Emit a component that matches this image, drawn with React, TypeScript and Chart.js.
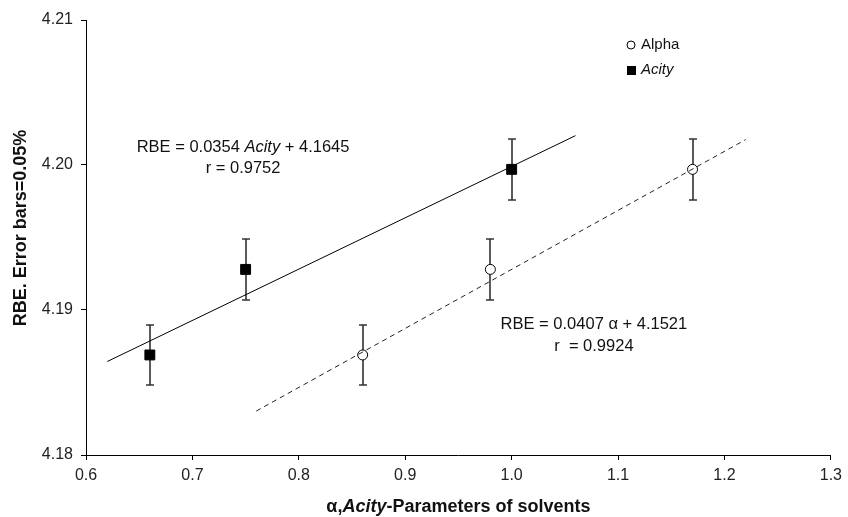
import React, { useEffect, useRef } from "react";
import { Chart, registerables } from "chart.js";

Chart.register(...registerables);

// ---- data ----
const alphaX = [0.86, 0.98, 1.17];
const alphaY = [4.1869, 4.1928, 4.1997];
const acityX = [0.66, 0.75, 1.0];
const acityY = [4.1869, 4.1928, 4.1997];
const errorPercent = 0.05; // error bars = 0.05 %

const acityFitCoef = [0.0354, 4.1645]; // slope, intercept
const acityFitR = 0.9752;
const acityFitRange = [0.62, 1.06];

const alphaFitCoef = [0.0407, 4.1521];
const alphaFitR = 0.9924;
const alphaFitRange = [0.76, 1.22];

const xTicks = [0.6, 0.7, 0.8, 0.9, 1.0, 1.1, 1.2, 1.3];
const yTicks = [4.18, 4.19, 4.2, 4.21];

const FONT = "'Liberation Sans', Arial, sans-serif";

type Seg = { t: string; italic?: boolean; bold?: boolean };

function drawRich(ctx: CanvasRenderingContext2D, segs: Seg[], cx: number, cy: number, size: number) {
  const fontOf = (s: Seg) => `${s.italic ? "italic " : ""}${s.bold ? "bold " : ""}${size}px ${FONT}`;
  let total = 0;
  const widths = segs.map((s) => {
    ctx.font = fontOf(s);
    const w = ctx.measureText(s.t).width;
    total += w;
    return w;
  });
  let x = cx - total / 2;
  ctx.textAlign = "left";
  ctx.textBaseline = "middle";
  segs.forEach((s, i) => {
    ctx.font = fontOf(s);
    ctx.fillText(s.t, x, cy);
    x += widths[i];
  });
}

const fitPoints = (coef: number[], range: number[]) =>
  range.map((x) => ({ x, y: coef[0] * x + coef[1] }));

const extrasPlugin = {
  id: "extras",
  beforeDatasetsDraw(chart: any) {
    const ctx: CanvasRenderingContext2D = chart.ctx;
    const xs = chart.scales.x;
    const ys = chart.scales.y;
    ctx.save();
    ctx.strokeStyle = "#333";
    ctx.lineWidth = 1.6;
    const series = [
      [alphaX, alphaY],
      [acityX, acityY],
    ];
    series.forEach(([sx, sy]) => {
      sx.forEach((xv, i) => {
        const yv = sy[i];
        const err = (yv * errorPercent) / 100;
        const px = Math.round(xs.getPixelForValue(xv));
        const top = Math.round(ys.getPixelForValue(yv + err));
        const bot = Math.round(ys.getPixelForValue(yv - err));
        ctx.beginPath();
        ctx.moveTo(px, top);
        ctx.lineTo(px, bot);
        ctx.moveTo(px - 4, top);
        ctx.lineTo(px + 4, top);
        ctx.moveTo(px - 4, bot);
        ctx.lineTo(px + 4, bot);
        ctx.stroke();
      });
    });
    ctx.restore();
  },
  afterDraw(chart: any) {
    const ctx: CanvasRenderingContext2D = chart.ctx;
    const xs = chart.scales.x;
    const ys = chart.scales.y;
    const ca = chart.chartArea;
    ctx.save();
    ctx.fillStyle = "#111";

    // equation annotations
    const a1x = xs.getPixelForValue(0.7476);
    const a1y = ys.getPixelForValue(4.2012);
    drawRich(ctx, [
      { t: `RBE = ${acityFitCoef[0].toFixed(4)} ` },
      { t: "Acity", italic: true },
      { t: ` + ${acityFitCoef[1].toFixed(4)}` },
    ], a1x, a1y, 16.5);
    drawRich(ctx, [{ t: `r = ${acityFitR.toFixed(4)}` }], a1x, a1y + 21, 16.5);

    const a2x = xs.getPixelForValue(1.0773);
    const a2y = ys.getPixelForValue(4.189);
    drawRich(ctx, [
      { t: `RBE = ${alphaFitCoef[0].toFixed(4)} α + ${alphaFitCoef[1].toFixed(4)}` },
    ], a2x, a2y, 16.5);
    drawRich(ctx, [{ t: `r  = ${alphaFitR.toFixed(4)}` }], a2x, a2y + 22, 16.5);

    // legend
    const lx = ca.left + 545;
    const ly1 = ca.top + 25;
    const ly2 = ca.top + 50;
    ctx.strokeStyle = "#000";
    ctx.lineWidth = 1;
    ctx.fillStyle = "#fff";
    ctx.beginPath();
    ctx.arc(lx, ly1, 4, 0, Math.PI * 2);
    ctx.fill();
    ctx.stroke();
    ctx.fillStyle = "#000";
    ctx.fillRect(lx - 4, ly2 - 4, 9, 9);
    ctx.fillStyle = "#111";
    ctx.font = `15px ${FONT}`;
    ctx.textAlign = "left";
    ctx.textBaseline = "middle";
    ctx.fillText("Alpha", lx + 10, ly1);
    ctx.font = `italic 15px ${FONT}`;
    ctx.fillText("Acity", lx + 10, ly2);

    // axis titles
    drawRich(ctx, [
      { t: "α,", bold: true },
      { t: "Acity", bold: true, italic: true },
      { t: "-Parameters of solvents", bold: true },
    ], (ca.left + ca.right) / 2, 507, 18);

    ctx.save();
    ctx.translate(21, 228);
    ctx.rotate(-Math.PI / 2);
    drawRich(ctx, [{ t: "RBE. Error bars=0.05%", bold: true }], 0, 0, 18);
    ctx.restore();

    ctx.restore();
  },
};

export default function App() {
  const ref = useRef<HTMLCanvasElement | null>(null);
  useEffect(() => {
    if (!ref.current) return;
    const chart = new Chart(ref.current, {
      type: "scatter",
      data: {
        datasets: [
          {
            label: "Acity fit",
            data: fitPoints(acityFitCoef, acityFitRange),
            showLine: true,
            borderColor: "#000",
            borderWidth: 1,
            pointRadius: 0,
            fill: false,
          },
          {
            label: "Alpha fit",
            data: fitPoints(alphaFitCoef, alphaFitRange),
            showLine: true,
            borderColor: "#222",
            borderWidth: 1,
            borderDash: [5, 4],
            pointRadius: 0,
            fill: false,
          },
          {
            label: "Alpha",
            data: alphaX.map((x, i) => ({ x, y: alphaY[i] })),
            pointStyle: "circle",
            pointRadius: 5,
            backgroundColor: "#fff",
            borderColor: "#000",
            borderWidth: 1,
          },
          {
            label: "Acity",
            data: acityX.map((x, i) => ({ x, y: acityY[i] })),
            pointStyle: "rect",
            pointRadius: 7,
            backgroundColor: "#000",
            borderColor: "#000",
            borderWidth: 1,
          },
        ],
      } as any,
      options: {
        animation: false,
        responsive: false,
        devicePixelRatio: 1,
        layout: { padding: { left: 0, right: 8, top: 20, bottom: 0 } },
        plugins: { legend: { display: false }, tooltip: { enabled: false } },
        scales: {
          x: {
            type: "linear",
            min: xTicks[0],
            max: xTicks[xTicks.length - 1],
            afterBuildTicks: (s: any) => {
              s.ticks = xTicks.map((v) => ({ value: v }));
            },
            ticks: {
              callback: (v: any) => Number(v).toFixed(1),
              font: { family: FONT, size: 16 },
              color: "#222",
              padding: 6,
              maxRotation: 0,
            },
            grid: { drawOnChartArea: false, tickLength: 5, color: "#000" },
            border: { color: "#000", width: 1 },
            afterFit: (s: any) => {
              s.height = 62;
            },
          },
          y: {
            type: "linear",
            min: yTicks[0],
            max: yTicks[yTicks.length - 1],
            afterBuildTicks: (s: any) => {
              s.ticks = yTicks.map((v) => ({ value: v }));
            },
            ticks: {
              callback: (v: any) => Number(v).toFixed(2),
              font: { family: FONT, size: 16 },
              color: "#222",
              padding: 8,
            },
            grid: { drawOnChartArea: false, tickLength: 5, color: "#000" },
            border: { color: "#000", width: 1 },
            afterFit: (s: any) => {
              s.width = 86;
            },
          },
        },
      } as any,
      plugins: [extrasPlugin],
    });
    return () => chart.destroy();
  }, []);
  return (
    <div style={{ position: "absolute", left: 0, top: 0, width: 848, height: 517, background: "#fff" }}>
      <canvas ref={ref} width={848} height={517} style={{ display: "block" }} />
    </div>
  );
}
